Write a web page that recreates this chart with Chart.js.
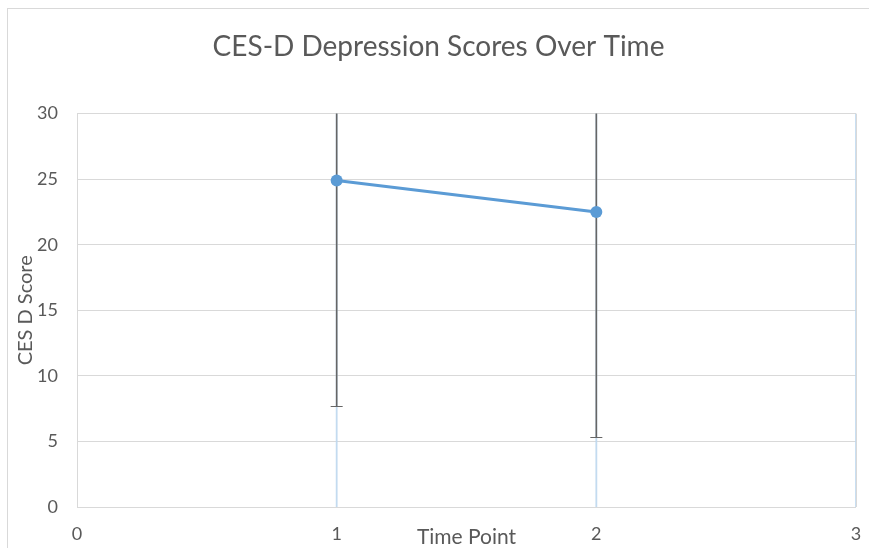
<!DOCTYPE html>
<html>
<head>
<meta charset="utf-8">
<script src="https://cdn.jsdelivr.net/npm/chart.js@4.4.0/dist/chart.umd.min.js"></script>
<style>
  html, body { margin: 0; padding: 0; background: #fff; }
  #wrap { position: relative; width: 869px; height: 548px; overflow: hidden; }
  #frame { position: absolute; left: 7px; top: 8px; width: 880px; height: 560px; border: 1px solid #d9d9d9; }
  canvas { position: absolute; left: 0; top: 0; }
</style>
</head>
<body>
<div id="wrap">
  <div id="frame"></div>
  <canvas id="chart" width="869" height="548"></canvas>
</div>
<script>
// data
const timePoints = [1, 2];
const meanScores = [24.9, 22.5];
const sdScores = [17.2, 17.2];
const guideX = [1, 2, 3];
const xTicks = [0, 1, 2, 3];
const yMin = 0, yMax = 30, yStep = 5;

const textColor = '#595959';
const fontFamily = 'Lato, "Open Sans", sans-serif';

const meanPoints = timePoints.map((t, i) => ({ x: t, y: meanScores[i] }));
const guidePoints = guideX.flatMap(x => [{ x: x, y: yMin }, { x: x, y: yMax }, { x: x, y: null }]);

// error bars drawn right after the light blue guide lines, under the series
const errorBars = {
    id: 'errorBars',
    afterDatasetDraw(chart, args) {
        if (args.index !== 1) return;
        const ctx = chart.ctx;
        const xs = chart.scales.x, ys = chart.scales.y;
        const area = chart.chartArea;
        ctx.save();
        ctx.beginPath();
        ctx.rect(area.left, area.top, area.right - area.left, area.bottom - area.top);
        ctx.clip();
        ctx.strokeStyle = '#666666';
        timePoints.forEach((t, i) => {
            const px = xs.getPixelForValue(t);
            const lo = ys.getPixelForValue(meanScores[i] - sdScores[i]);
            const hi = ys.getPixelForValue(meanScores[i] + sdScores[i]);
            ctx.lineWidth = 1.6;
            ctx.beginPath();
            ctx.moveTo(px, lo);
            ctx.lineTo(px, hi);
            ctx.stroke();
            ctx.lineWidth = 1;
            ctx.beginPath();
            ctx.moveTo(px - 6, Math.round(lo) + 0.5);
            ctx.lineTo(px + 6, Math.round(lo) + 0.5);
            ctx.stroke();
        });
        ctx.restore();
    }
};

// x axis title sits on the tick label row in the original
const xTitle = {
    id: 'xTitle',
    afterDraw(chart) {
        const ctx = chart.ctx;
        const area = chart.chartArea;
        ctx.save();
        ctx.fillStyle = textColor;
        ctx.font = '21px ' + fontFamily;
        ctx.textAlign = 'center';
        ctx.textBaseline = 'middle';
        ctx.fillText('Time Point', (area.left + area.right) / 2, 537);
        ctx.restore();
    }
};

new Chart(document.getElementById('chart'), {
    type: 'scatter',
    data: {
        datasets: [{
            data: meanPoints,
            showLine: true,
            borderColor: '#5b9bd5',
            backgroundColor: '#5b9bd5',
            borderWidth: 3,
            pointRadius: 6,
            pointBorderWidth: 0,
            order: 0
        }, {
            data: guidePoints,
            showLine: true,
            spanGaps: false,
            borderColor: 'rgba(189, 215, 238, 0.9)',
            borderWidth: 1.8,
            pointRadius: 0,
            order: 1
        }]
    },
    options: {
        responsive: false,
        animation: false,
        layout: { padding: { left: 8, right: 0, top: 0, bottom: 0 } },
        plugins: {
            legend: { display: false },
            tooltip: { enabled: false },
            title: {
                display: true,
                text: 'CES-D Depression Scores Over Time',
                color: textColor,
                font: { family: fontFamily, size: 28, weight: 'normal' },
                padding: { top: 30, bottom: 50 }
            }
        },
        scales: {
            x: {
                type: 'linear',
                min: 0,
                max: 3,
                afterBuildTicks: axis => { axis.ticks = xTicks.map(v => ({ value: v })); },
                afterFit: axis => {
                    axis.height = 41;
                    axis.paddingLeft = 0;
                    axis.paddingRight = 13;
                },
                grid: {
                    drawTicks: false,
                    color: c => (c.tick && (c.tick.value === 0 || c.tick.value === 3)) ? '#d9d9d9' : 'rgba(0,0,0,0)'
                },
                border: { display: false },
                ticks: {
                    color: textColor,
                    padding: 16,
                    font: { family: fontFamily, size: 18 }
                }
            },
            y: {
                min: yMin,
                max: yMax,
                afterFit: axis => { axis.width = 69; },
                grid: { drawTicks: false, color: '#d9d9d9' },
                border: { display: true, color: '#d9d9d9' },
                ticks: {
                    stepSize: yStep,
                    color: textColor,
                    padding: 19,
                    font: { family: fontFamily, size: 18 }
                },
                title: {
                    display: true,
                    text: 'CES D Score',
                    color: textColor,
                    font: { family: fontFamily, size: 20 },
                    padding: { top: 6, bottom: 0 }
                }
            }
        }
    },
    plugins: [errorBars, xTitle]
});
</script>
</body>
</html>
